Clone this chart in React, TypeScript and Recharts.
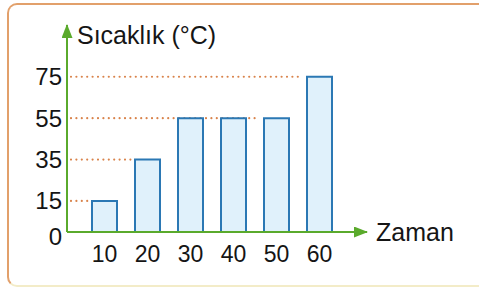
import { BarChart, Bar, XAxis, YAxis } from 'recharts'

const times = ['10', '20', '30', '40', '50', '60']
const temps = [15, 35, 55, 55, 55, 75]
// which bars get a dotted guide back to the y axis
const guides = [15, 35, null, null, 55, 75]
const yTicks = [0, 15, 35, 55, 75]

const data = times.map((t, i) => ({ time: t, temp: temps[i], guide: guides[i] }))

const GREEN = '#5aaa2c'
const FONT = '"Liberation Sans", Arial, sans-serif'
const Y_WIDTH = 67

const GuideShape = (props: any) => {
  if (props.payload?.guide == null) return null
  return (
    <line
      x1={Y_WIDTH + 4}
      y1={props.y}
      x2={props.x - 4}
      y2={props.y}
      stroke="#d9834b"
      strokeWidth={2.2}
      strokeDasharray="0 5.4"
      strokeLinecap="round"
    />
  )
}

const YTick = (props: any) => {
  const { x, y, payload } = props
  return (
    <text
      x={x}
      y={y + (payload.value === 0 ? 4 : 0)}
      dy="0.355em"
      textAnchor="end"
      fill="#151515"
      fontSize={24}
      fontFamily={FONT}
    >
      {payload.value}
    </text>
  )
}

export default function App() {
  return (
    <div style={{ position: 'fixed', left: 0, top: 0, width: 479, height: 287, overflow: 'hidden', background: '#fff' }}>
      <svg width={0} height={0} style={{ position: 'absolute' }}>
        <defs>
          <marker id="arrowHead" markerUnits="userSpaceOnUse" markerWidth={14} markerHeight={11} refX={13} refY={5.5} orient="auto-start-reverse">
            <path d="M0,0 L14,5.5 L0,11 z" fill={GREEN} />
          </marker>
        </defs>
      </svg>
      <div
        style={{
          position: 'absolute',
          left: 7,
          top: 3,
          width: 540,
          height: 284,
          boxSizing: 'border-box',
          border: '2px solid #e2a06b',
          borderBottomColor: '#f3ecc8',
          borderRadius: 10,
        }}
      />
      <div style={{ position: 'absolute', left: 0, top: 0 }}>
        <BarChart
          width={479}
          height={287}
          data={data}
          margin={{ top: 25, right: 112, bottom: 0, left: 0 }}
          barGap={-25}
        >
          <XAxis
            dataKey="time"
            height={55}
            padding={{ left: 16, right: 26 }}
            axisLine={{ stroke: GREEN, strokeWidth: 2, markerEnd: 'url(#arrowHead)' } as any}
            tickLine={false}
            tickSize={0}
            tickMargin={14}
            tick={{ fill: '#151515', fontSize: 23, fontFamily: FONT }}
            label={(p: any) => (
              <text
                x={p.viewBox.x + p.viewBox.width + 9}
                y={p.viewBox.y + 9}
                fill="#151515"
                fontSize={25}
                fontFamily={FONT}
              >
                Zaman
              </text>
            )}
          />
          <YAxis
            width={Y_WIDTH}
            domain={[0, 100]}
            ticks={yTicks}
            interval={0}
            axisLine={{ stroke: GREEN, strokeWidth: 2, markerStart: 'url(#arrowHead)' } as any}
            tickLine={false}
            tickSize={0}
            tickMargin={5}
            tick={<YTick />}
            label={(p: any) => (
              <text
                x={p.viewBox.x + p.viewBox.width + 10}
                y={p.viewBox.y + 19}
                fill="#151515"
                fontSize={25}
                fontFamily={FONT}
              >
                Sıcaklık (°C)
              </text>
            )}
          />
          <Bar dataKey="guide" barSize={25} shape={GuideShape} isAnimationActive={false} />
          <Bar
            dataKey="temp"
            barSize={25}
            fill="#e0f1fb"
            stroke="#2b78b4"
            strokeWidth={2}
            isAnimationActive={false}
          />
        </BarChart>
      </div>
    </div>
  )
}
